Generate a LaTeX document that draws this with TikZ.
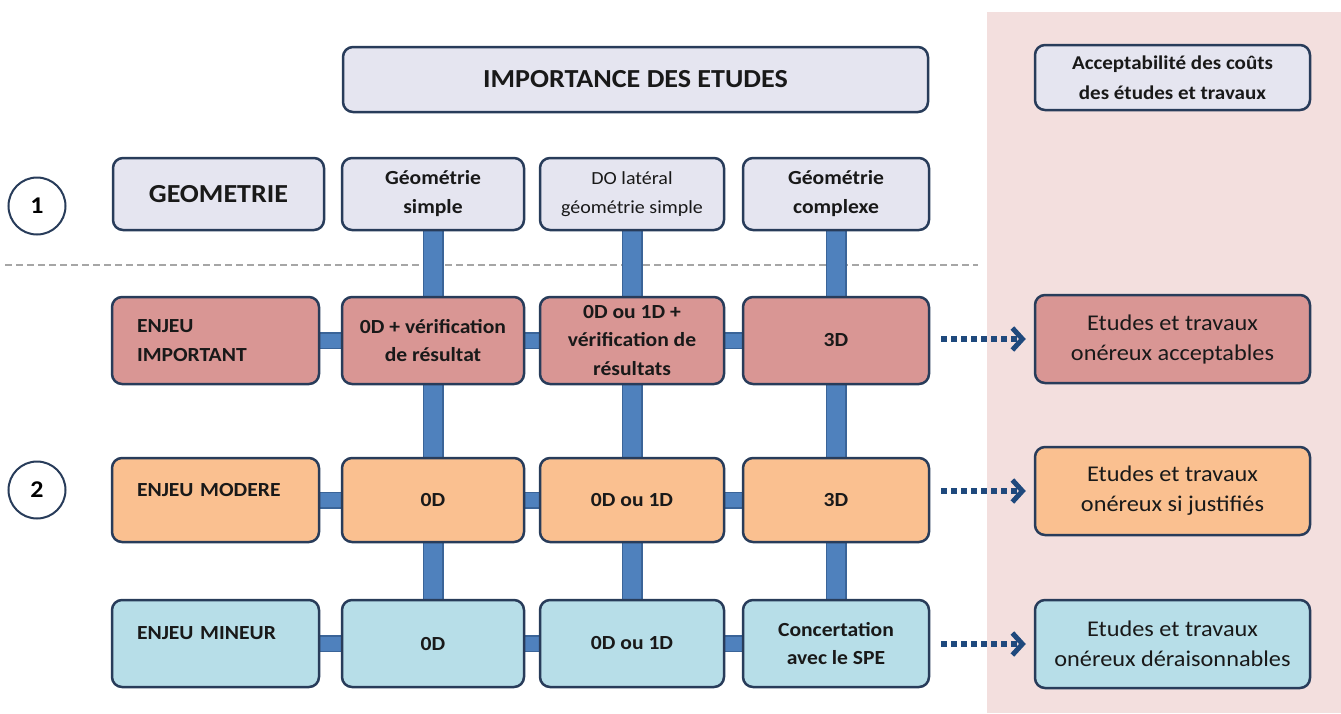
\documentclass[tikz,border=0pt]{standalone}
\usepackage{fontspec}
\setmainfont{Carlito}[FakeStretch=1.08]
\usepackage{tikz}
\usetikzlibrary{arrows.meta, backgrounds}
\tikzset{>={Straight Barb[length=10pt,width=22pt,line width=5pt]}}
\definecolor{boxline}{RGB}{40,60,90}
\definecolor{headfill}{RGB}{229,229,240}
\definecolor{redfill}{RGB}{217,150,148}
\definecolor{orangefill}{RGB}{250,192,144}
\definecolor{bluefill}{RGB}{183,222,232}
\definecolor{barblue}{RGB}{79,129,189}
\definecolor{bardark}{RGB}{58,100,152}
\definecolor{panelpink}{RGB}{243,223,222}
\definecolor{arrowblue}{RGB}{31,73,125}
\definecolor{textblack}{RGB}{25,25,25}
\tikzset{
  box/.style={draw=boxline, line width=2.5pt, rounded corners=10pt, inner sep=0pt, align=center, text=textblack},
  headbox/.style={box, fill=headfill},
  redbox/.style={box, fill=redfill},
  orangebox/.style={box, fill=orangefill},
  bluebox/.style={box, fill=bluefill},
  cell/.style={minimum height=#1, font=\fontsize{20}{28.5}\selectfont\bfseries},
  enjeu/.style={minimum width=207pt, text width=157pt, align=left},
  result/.style={minimum width=275pt, minimum height=88pt, font=\fontsize{22.5}{30}\selectfont},
  numcircle/.style={circle, draw=boxline, line width=2pt, fill=white, minimum size=57pt, inner sep=0pt, font=\fontsize{24}{24}\selectfont\bfseries},
  vbar/.style={draw=bardark, double=barblue, double distance=18pt, line width=1.5pt},
  hbar/.style={draw=bardark, double=barblue, double distance=14pt, line width=1.5pt},
  dotarrow/.style={->, draw=arrowblue, line width=6pt, dash pattern=on 5.5pt off 4.5pt, shorten <=11pt, shorten >=8pt}
}

\begin{document}
\begin{tikzpicture}[x=1pt, y=-1pt]
  \useasboundingbox (0,0) rectangle (1341,713);

  \node[headbox, minimum width=585pt, minimum height=65pt, font=\fontsize{26}{30}\selectfont\bfseries] (TITLE) at (635.5,79.5) {IMPORTANCE DES ETUDES};
  \node[headbox, minimum width=275pt, minimum height=65pt, font=\fontsize{19.5}{30}\selectfont\bfseries] (COUTS) at (1172.5,77.5) {Acceptabilité des coûts\\des études et travaux};

  \node[numcircle] (ONE) at (37,206) {1};
  \node[numcircle] (TWO) at (37,490) {2};

  \node[headbox, minimum width=211pt, minimum height=72pt, font=\fontsize{26}{30}\selectfont\bfseries] (GEO) at (218.5,194) {GEOMETRIE};
  \node[headbox, minimum width=182pt, minimum height=72pt, font=\fontsize{20}{29}\selectfont\bfseries] (GA) at (433,194) {Géométrie\\simple};
  \node[headbox, minimum width=184pt, minimum height=72pt, font=\fontsize{18.5}{29}\selectfont] (GB) at (632,194) {DO latéral\\géométrie simple};
  \node[headbox, minimum width=186pt, minimum height=72pt, font=\fontsize{20}{29}\selectfont\bfseries] (GC) at (836,194) {Géométrie\\complexe};

  \node[redbox, cell=87pt, enjeu] (IMP) at (215.5,340.5) {ENJEU\\IMPORTANT};
  \node[redbox, cell=87pt, minimum width=182pt] (IA) at (433,340.5) {0D + vérification\\de résultat};
  \node[redbox, cell=87pt, minimum width=184pt] (IB) at (632,340.5) {0D ou 1D +\\vérification de\\résultats};
  \node[redbox, cell=87pt, minimum width=186pt] (IC) at (836,340.5) {3D};
  \node[redbox, result] (RI) at (1172.5,339) {Etudes et travaux\\onéreux acceptables};

  \node[orangebox, cell=84pt, enjeu, text height=12pt, text depth=20pt] (MOD) at (215.5,500) {ENJEU MODERE};
  \node[orangebox, cell=84pt, minimum width=182pt] (MA) at (433,500) {0D};
  \node[orangebox, cell=84pt, minimum width=184pt] (MB) at (632,500) {0D ou 1D};
  \node[orangebox, cell=84pt, minimum width=186pt] (MC) at (836,500) {3D};
  \node[orangebox, result] (RM) at (1172.5,491) {Etudes et travaux\\onéreux si justifiés};

  \node[bluebox, cell=87pt, enjeu, text height=12pt, text depth=20pt] (MIN) at (215.5,643.5) {ENJEU MINEUR};
  \node[bluebox, cell=87pt, minimum width=182pt] (NA) at (433,643.5) {0D};
  \node[bluebox, cell=87pt, minimum width=184pt] (NB) at (632,643.5) {0D ou 1D};
  \node[bluebox, cell=87pt, minimum width=186pt] (NC) at (836,643.5) {Concertation\\avec le SPE};
  \node[bluebox, result] (RN) at (1172.5,644) {Etudes et travaux\\onéreux déraisonnables};

  \draw[dotarrow] (IC.east |- RI.west) -- (RI.west);
  \draw[dotarrow] (MC.east |- RM.west) -- (RM.west);
  \draw[dotarrow] (NC.east |- RN.west) -- (RN.west);

  \begin{pgfonlayer}{background}
    \fill[panelpink] (987,12) rectangle (1341,713);
    \draw[gray!70, line width=1.2pt, dash pattern=on 7pt off 4pt] (5,265) -- (978,265);

    \draw[vbar] (GA.south) -- (NA.north);
    \draw[vbar] (GB.south) -- (NB.north);
    \draw[vbar] (GC.south) -- (NC.north);

    \draw[hbar] (IMP.east) -- (IA.west);
    \draw[hbar] (IA.east) -- (IB.west);
    \draw[hbar] (IB.east) -- (IC.west);
    \draw[hbar] (MOD.east) -- (MA.west);
    \draw[hbar] (MA.east) -- (MB.west);
    \draw[hbar] (MB.east) -- (MC.west);
    \draw[hbar] (MIN.east) -- (NA.west);
    \draw[hbar] (NA.east) -- (NB.west);
    \draw[hbar] (NB.east) -- (NC.west);
  \end{pgfonlayer}
\end{tikzpicture}
\end{document}
